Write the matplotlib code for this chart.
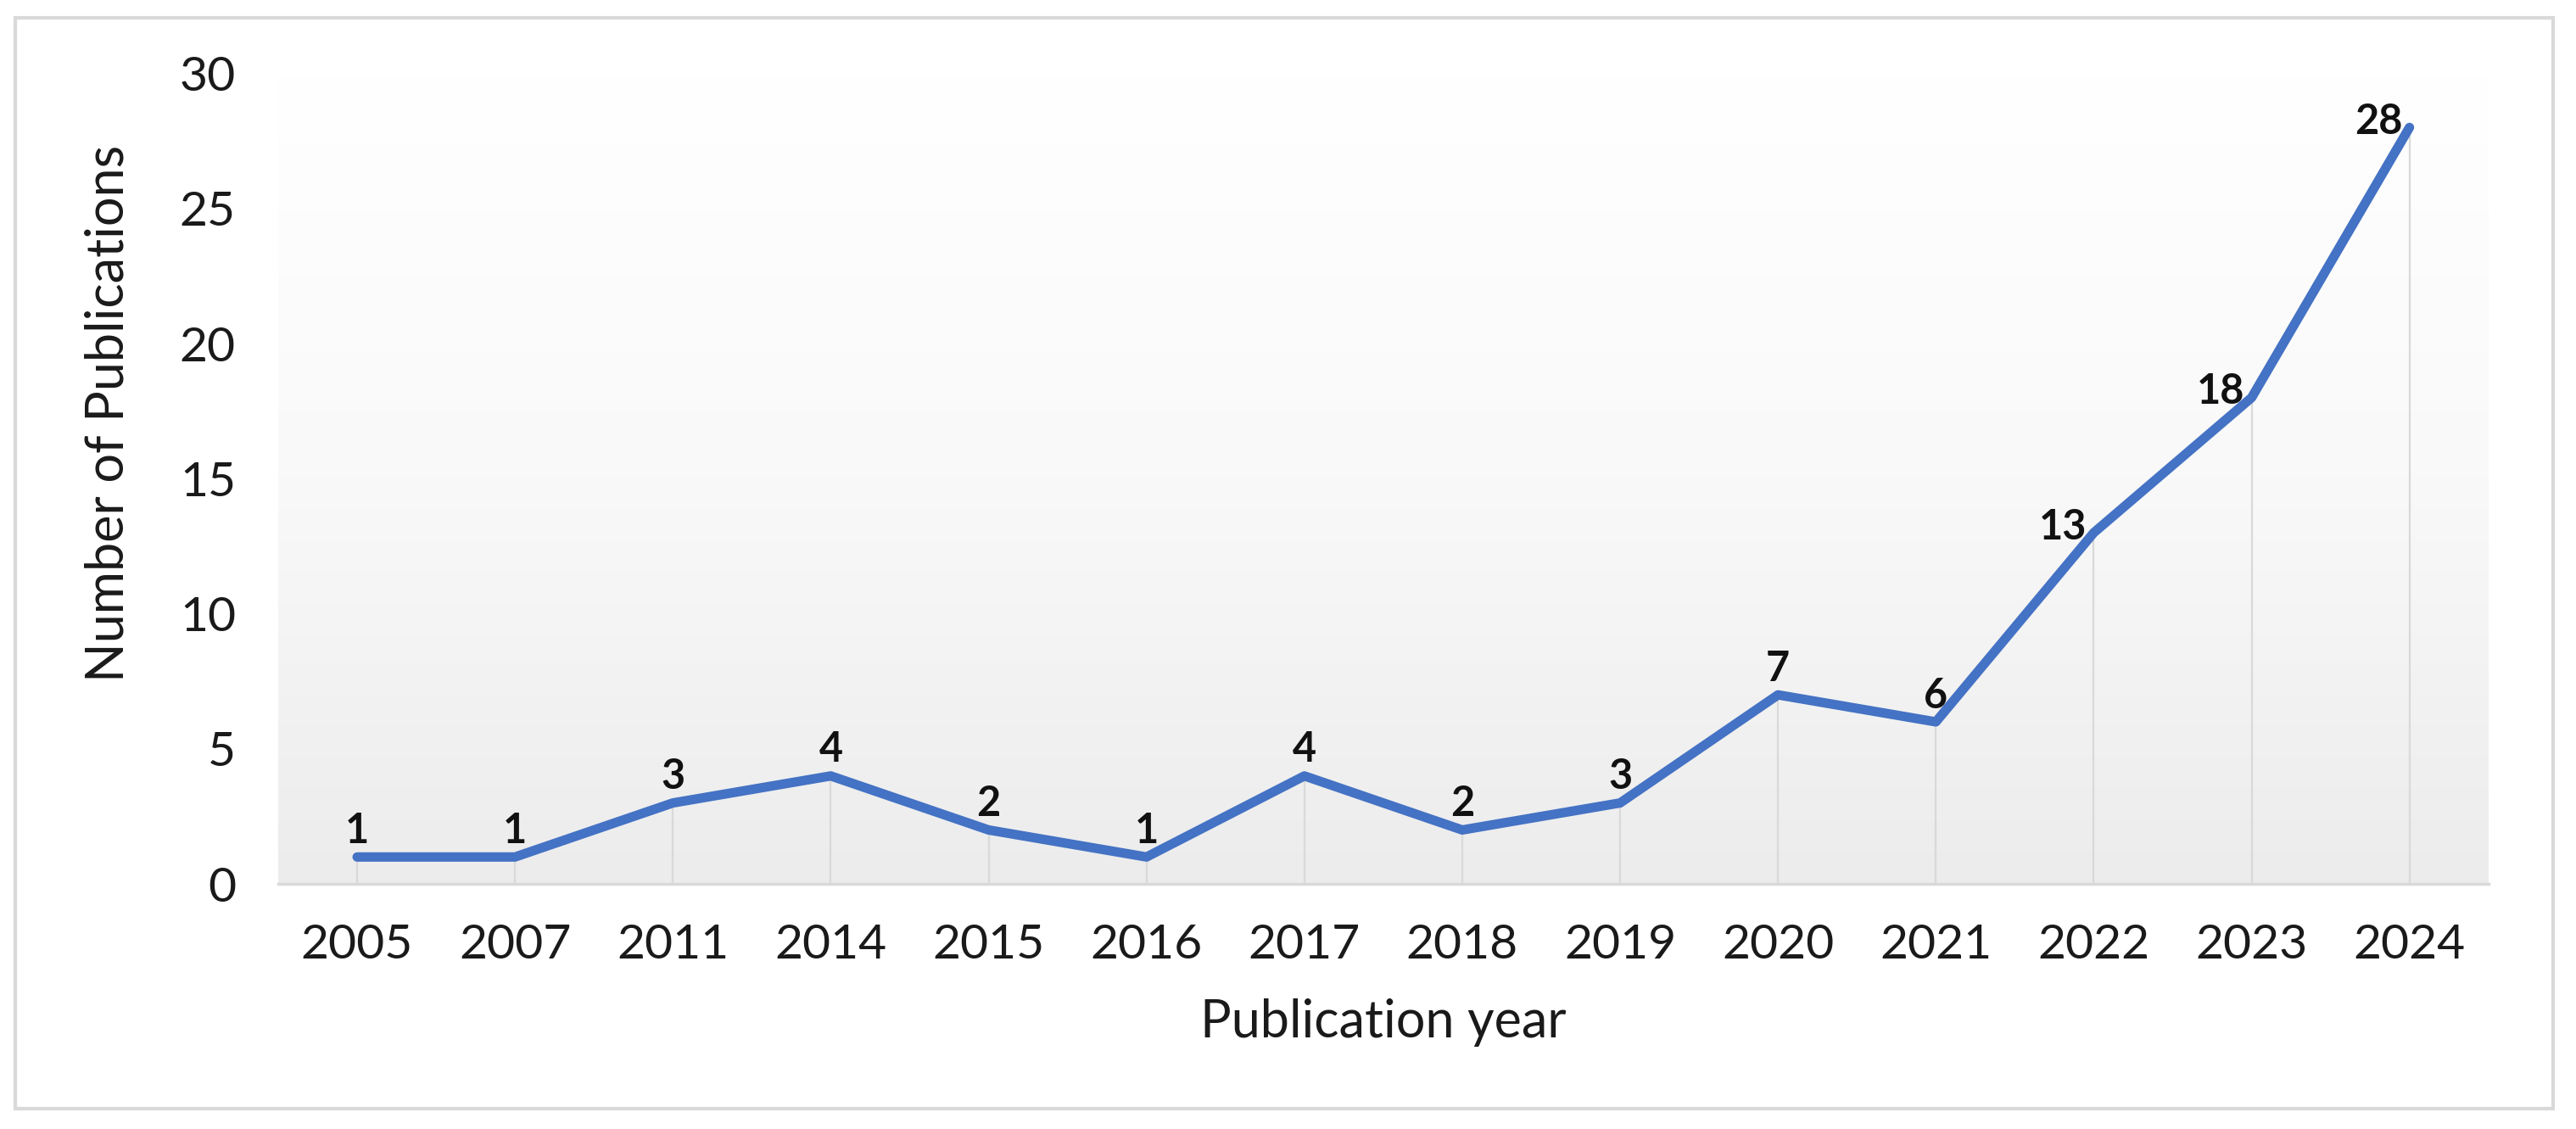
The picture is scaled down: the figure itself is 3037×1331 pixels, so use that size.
import numpy as np
import matplotlib
matplotlib.use("Agg")
import matplotlib.pyplot as plt
from matplotlib.colors import LinearSegmentedColormap
from matplotlib.patches import Rectangle

plt.rcParams["font.family"] = ["Lato", "DejaVu Sans"]

# ── data ────────────────────────────────────────────────────────────────────
years = ["2005", "2007", "2011", "2014", "2015", "2016", "2017",
         "2018", "2019", "2020", "2021", "2022", "2023", "2024"]
counts = [1, 1, 3, 4, 2, 1, 4, 2, 3, 7, 6, 13, 18, 28]
yticks = [0, 5, 10, 15, 20, 25, 30]

LINE = "#4472C4"
GRAY = "#d9d9d9"
TXT = "#1a1a1a"

fig = plt.figure(figsize=(30.37, 13.31), dpi=100)
ax = fig.add_axes([0.108, 0.217, 0.858, 0.718])

# outer chart border
fig.patches.append(Rectangle((0.006, 0.018), 0.985, 0.966, transform=fig.transFigure,
                             fill=False, edgecolor=GRAY, lw=3, zorder=0))

# vertical gradient inside plot area (white at top -> light gray at bottom)
cmap = LinearSegmentedColormap.from_list("bg", ["#ffffff", "#f9f9f9", "#ececec"])
grad = np.linspace(0, 1, 256).reshape(-1, 1)
ax.imshow(grad, cmap=cmap, aspect="auto", extent=[0, 1, 0, 1],
          transform=ax.transAxes, zorder=0, vmin=0, vmax=1)

x = np.arange(len(years))
ax.vlines(x, 0, counts, color=GRAY, lw=1.6, zorder=1)
ax.plot(x, counts, color=LINE, lw=8, solid_joinstyle="round",
        solid_capstyle="round", zorder=3)

for xi, v in zip(x, counts):
    if v >= 10:
        ax.annotate(str(v), (xi, v), xytext=(-6, 5), textcoords="offset points",
                    ha="right", va="center", fontsize=35, fontweight="bold",
                    color="#111111", zorder=4)
    else:
        ax.annotate(str(v), (xi, v), xytext=(0, 6), textcoords="offset points",
                    ha="center", va="bottom", fontsize=35, fontweight="bold",
                    color="#111111", zorder=4)

ax.set_xlim(-0.5, len(years) - 0.5)
ax.set_ylim(0, 30)
ax.set_xticks(x)
ax.set_xticklabels(years)
ax.set_yticks(yticks)
ax.tick_params(axis="both", length=0, labelsize=41, colors=TXT)
ax.tick_params(axis="x", pad=34)
ax.tick_params(axis="y", pad=36)

for side in ["top", "right", "left"]:
    ax.spines[side].set_visible(False)
ax.spines["bottom"].set_color(GRAY)
ax.spines["bottom"].set_linewidth(2.5)

ax.set_xlabel("Publication year", fontsize=44, color=TXT, labelpad=26)
ax.set_ylabel("Number of Publications", fontsize=44, color=TXT)
ax.yaxis.set_label_coords(-0.066, 0.58)

fig.savefig("out.png", dpi=100)
